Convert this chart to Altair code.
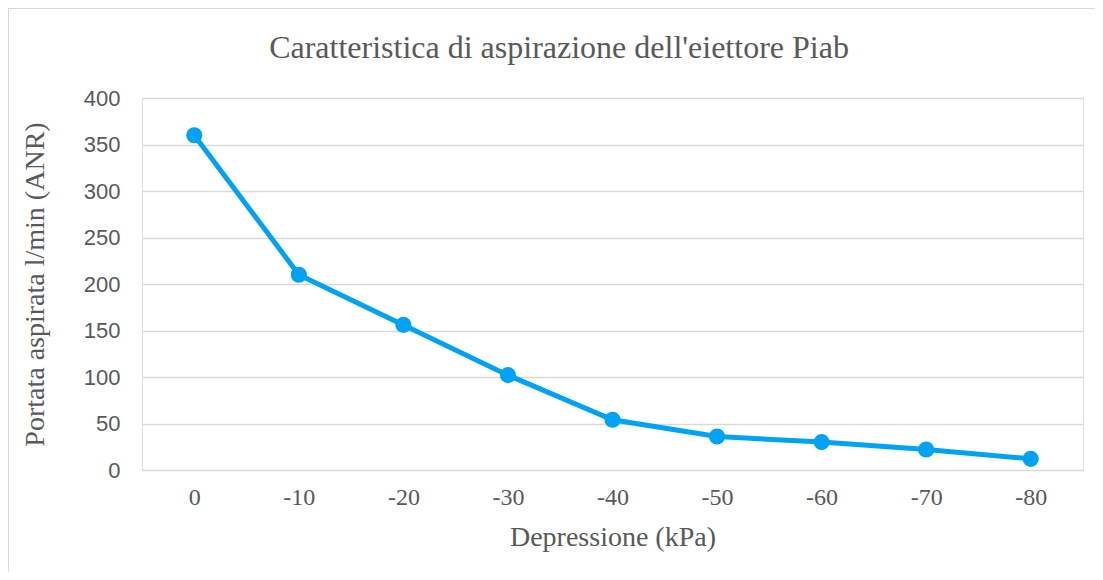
import altair as alt
import pandas as pd

categories = ["0", "-10", "-20", "-30", "-40", "-50", "-60", "-70", "-80"]
values = [360, 210, 156, 102, 54, 36, 30, 22, 12]
title_text = ["Caratteristica di aspirazione dell'eiettore Piab"]

df = pd.DataFrame({"dep": categories, "flow": values})
tdf = pd.DataFrame({"t": title_text})

SERIF = "Liberation Serif"
SANS = "Liberation Sans"
GRAY = "#595959"
BLUE = "#00A2F4"

x = alt.X("dep:N", sort=categories, title="Depressione (kPa)",
          scale=alt.Scale(paddingInner=1, paddingOuter=0.5),
          axis=alt.Axis(labelAngle=0, labelFont=SERIF, labelFontSize=24, labelColor=GRAY,
                        labelPadding=15, ticks=False, domain=False, grid=False,
                        titleFont=SERIF, titleFontSize=28, titleColor=GRAY,
                        titleFontWeight="normal", titleY=67, titleBaseline="middle"))
y = alt.Y("flow:Q", title="Portata aspirata l/min (ANR)",
          scale=alt.Scale(domain=[0, 400]),
          axis=alt.Axis(values=[0, 50, 100, 150, 200, 250, 300, 350, 400],
                        labelFont=SANS, labelFontSize=22, labelColor=GRAY, labelPadding=22,
                        ticks=False, domain=False, gridColor="#D9D9D9", gridWidth=1.5,
                        titleFont=SERIF, titleFontSize=28, titleColor=GRAY,
                        titleFontWeight="normal", titleX=-107, titleY=186,
                        titleBaseline="middle", titleAlign="center", titleAngle=270))

line = alt.Chart(df).mark_line(color=BLUE, strokeWidth=5).encode(x=x, y=y)
pts = alt.Chart(df).mark_circle(color=BLUE, size=260, opacity=1).encode(x=x, y=y)

title = alt.Chart(tdf).mark_text(font=SERIF, fontSize=32, color=GRAY, baseline="middle",
                                 align="center").encode(
    text="t:N", x=alt.value(417), y=alt.value(-50))

border = alt.Chart(tdf).mark_rule(color="#D9D9D9", strokeWidth=2).encode(
    x=alt.value(-134), x2=alt.value(-134), y=alt.value(-90), y2=alt.value(480))
border_top = alt.Chart(tdf).mark_rule(color="#D9D9D9", strokeWidth=2).encode(
    x=alt.value(-134), x2=alt.value(961), y=alt.value(-90), y2=alt.value(-90))

chart = alt.layer(border, border_top, line, pts, title).properties(
    width=941, height=372,
    padding={"left": 134, "top": 90, "right": 12, "bottom": 102},
    autosize=alt.AutoSizeParams(type="none"),
).configure_view(stroke=None).configure(background="white")

chart.save("out.html", embed_options={"renderer": "svg", "actions": False})
